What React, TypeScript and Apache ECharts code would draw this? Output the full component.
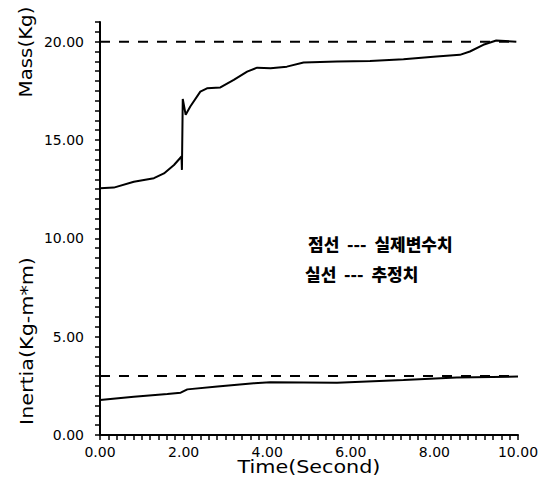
import React, { useEffect, useRef } from "react";
import * as echarts from "echarts";

const massTime = [0, 0.33, 0.81, 1.29, 1.53, 1.77, 1.95, 1.96, 1.98, 2.05, 2.16, 2.4, 2.56, 2.88, 3.2, 3.52, 3.76, 4.08, 4.47, 4.87, 5.67, 6.46, 7.26, 8.05, 8.61, 8.85, 9.17, 9.48, 9.96];
const massEst = [12.55, 12.58, 12.88, 13.06, 13.3, 13.73, 14.16, 13.48, 17.09, 16.28, 16.7, 17.46, 17.63, 17.67, 18.06, 18.48, 18.68, 18.65, 18.73, 18.94, 18.99, 19.02, 19.11, 19.24, 19.33, 19.5, 19.84, 20.06, 20.0];
const inertiaTime = [0, 0.81, 1.61, 1.93, 2.09, 2.81, 3.68, 4.07, 5.67, 7.26, 8.53, 10];
const inertiaEst = [1.78, 1.95, 2.09, 2.15, 2.32, 2.46, 2.63, 2.68, 2.66, 2.8, 2.93, 2.97];
const trueTime = [0, 10];
const massTrue = [20, 20];
const inertiaTrue = [3, 3];

const xTitle = "Time(Second)";
const yTitleMass = "Mass(Kg)";
const yTitleInertia = "Inertia(Kg-m*m)";
const legendLine1 = "점선  ---  실제변수치";
const legendLine2 = "실선  ---  추정치";

const zip = (xs: number[], ys: number[]) => xs.map((x, i) => [x, ys[i]]);
const isMult = (v: number, m: number) => Math.abs(v / m - Math.round(v / m)) < 1e-6;

function buildOption() {
  const font = "DejaVu Sans";
  const mkSolid = () => ({ color: "#000", width: 2, type: "solid" });
  const mkDashed = () => ({ color: "#000", width: 2, type: [10, 9] });
  return {
    animation: false,
    backgroundColor: "#fff",
    grid: { left: 100, right: 30, top: 22, bottom: 48 },
    xAxis: {
      type: "value",
      min: 0,
      max: 10,
      interval: 2,
      axisLine: { show: true, onZero: false, lineStyle: { color: "#000", width: 2 } },
      axisTick: { show: true, length: 5, lineStyle: { color: "#000", width: 1.5 } },
      minorTick: { show: true, splitNumber: 10, length: 5, lineStyle: { color: "#000", width: 1.5 } },
      splitLine: { show: false },
      axisLabel: { margin: 10, color: "#000", fontFamily: font, fontSize: 14, formatter: (v: number) => v.toFixed(2) },
    },
    yAxis: {
      type: "value",
      min: 0,
      max: 21,
      interval: 0.5,
      axisLine: { show: true, onZero: false, lineStyle: { color: "#000", width: 2 } },
      axisTick: { show: true, interval: 0, length: 5, lineStyle: { color: "#000", width: 1.5 } },
      splitLine: { show: false },
      axisLabel: { margin: 16, color: "#000", fontFamily: font, fontSize: 14, formatter: (v: number) => (isMult(v, 5) ? v.toFixed(2) : "") },
    },
    graphic: [
      { type: "text", x: 309, y: 467, scaleX: 1.15, style: { text: xTitle, font: `18px "${font}"`, fill: "#000", textAlign: "center", textVerticalAlign: "middle" } },
      { type: "text", x: 25, y: 52, rotation: Math.PI / 2, scaleX: 1.1, style: { text: yTitleMass, font: `18px "${font}"`, fill: "#000", textAlign: "center", textVerticalAlign: "middle" } },
      { type: "text", x: 27, y: 341, rotation: Math.PI / 2, scaleX: 1.15, style: { text: yTitleInertia, font: `18px "${font}"`, fill: "#000", textAlign: "center", textVerticalAlign: "middle" } },
      { type: "text", x: 308, y: 243, style: { text: legendLine1, font: `900 17px "Noto Sans CJK KR"`, fill: "#000", textAlign: "left", textVerticalAlign: "middle" } },
      { type: "text", x: 305, y: 273, style: { text: legendLine2, font: `900 17px "Noto Sans CJK KR"`, fill: "#000", textAlign: "left", textVerticalAlign: "middle" } },
    ],
    series: [
      { name: "massTrue", type: "line", data: zip(trueTime, massTrue), showSymbol: false, lineStyle: mkDashed() },
      { name: "inertiaTrue", type: "line", data: zip(trueTime, inertiaTrue), showSymbol: false, lineStyle: mkDashed() },
      { name: "massEst", type: "line", data: zip(massTime, massEst), showSymbol: false, lineStyle: mkSolid() },
      { name: "inertiaEst", type: "line", data: zip(inertiaTime, inertiaEst), showSymbol: false, lineStyle: mkSolid() },
    ],
  };
}

export default function App() {
  const ref = useRef<HTMLDivElement>(null);
  useEffect(() => {
    if (!ref.current) return;
    const chart = echarts.init(ref.current, null, { renderer: "svg" });
    chart.setOption(buildOption() as any);
    return () => chart.dispose();
  }, []);
  return <div ref={ref} style={{ position: "absolute", left: 0, top: 0, width: 548, height: 483 }} />;
}
